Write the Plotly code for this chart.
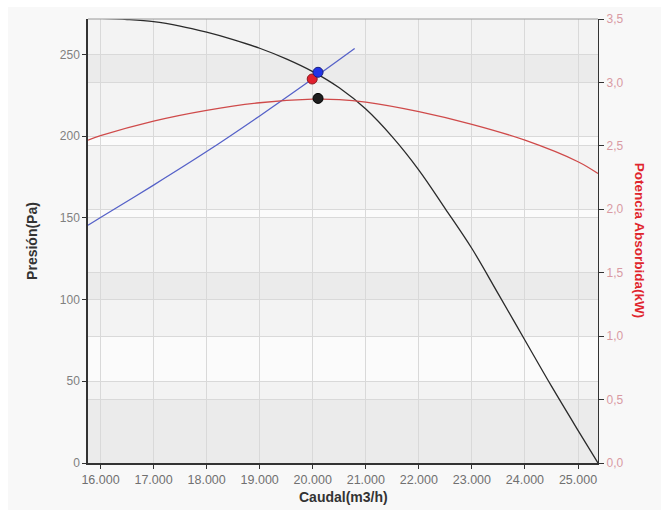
import plotly.graph_objects as go

# ---- data ----
q_fan = [15764, 16000, 16500, 17000, 17500, 18000, 18500, 19000, 19500, 20000, 20500,
         21000, 21500, 22000, 22500, 23000, 23500, 24000, 24500, 25000, 25377]
p_fan = [272.2, 272.0, 271.3, 270.0, 267.3, 263.5, 259.0, 253.7, 247.2, 239.4, 229.5,
         216.5, 199.5, 179.2, 155.5, 131.2, 103.3, 75.1, 47.0, 20.0, 0.0]

q_sys = [15764, 16000, 17000, 18000, 19000, 20000, 20790]
p_sys = [145.4, 150.2, 170.0, 190.5, 212.3, 235.0, 253.5]

q_pow = [15764, 16000, 17000, 18000, 19000, 20000, 20500, 21000, 22000, 23000, 24000, 25000, 25377]
kw_pow = [2.545, 2.58, 2.695, 2.78, 2.84, 2.868, 2.865, 2.845, 2.77, 2.67, 2.545, 2.375, 2.282]

op_sys_q, op_sys_p = [20100], [239.0]
op_fan_q, op_fan_p = [19990], [234.9]
op_pow_q, op_pow_kw = [20100], [2.874]

x_ticks = [16000, 17000, 18000, 19000, 20000, 21000, 22000, 23000, 24000, 25000]
x_tick_text = ["16.000", "17.000", "18.000", "19.000", "20.000", "21.000", "22.000", "23.000", "24.000", "25.000"]
y_ticks = [0, 50, 100, 150, 200, 250]
y2_ticks = [0, 0.5, 1.0, 1.5, 2.0, 2.5, 3.0, 3.5]
y2_tick_text = ["0,0", "0,5", "1,0", "1,5", "2,0", "2,5", "3,0", "3,5"]
left_bands = [(0, 50), (100, 150), (200, 250)]
right_bands = [(0, 0.5), (1.0, 1.5), (2.0, 2.5), (3.0, 3.5)]

X_RANGE = [15764, 25377]
Y_RANGE = [0, 271.6]
Y2_RANGE = [0, 3.5]

FONT = "Liberation Sans, Arial, sans-serif"

fig = go.Figure()
fig.add_trace(go.Scatter(x=q_pow, y=kw_pow, mode="lines", yaxis="y2",
                         line=dict(color="#cf4a4a", width=1.3, shape="spline"), showlegend=False))
fig.add_trace(go.Scatter(x=q_sys, y=p_sys, mode="lines",
                         line=dict(color="#5561c8", width=1.3, shape="spline"), showlegend=False))
fig.add_trace(go.Scatter(x=q_fan, y=p_fan, mode="lines",
                         line=dict(color="#2a2a2a", width=1.3, shape="spline"), showlegend=False))
fig.add_trace(go.Scatter(x=op_fan_q, y=op_fan_p, mode="markers",
                         marker=dict(color="#e0202e", size=10, line=dict(color="#8a1a20", width=1)), showlegend=False))
fig.add_trace(go.Scatter(x=op_sys_q, y=op_sys_p, mode="markers",
                         marker=dict(color="#2233e6", size=10, line=dict(color="#1a2080", width=1)), showlegend=False))
fig.add_trace(go.Scatter(x=op_pow_q, y=op_pow_kw, mode="markers", yaxis="y2",
                         marker=dict(color="#1e1e1e", size=10, line=dict(color="#000000", width=1)), showlegend=False))

shapes = [
    dict(type="rect", xref="paper", yref="paper", x0=-0.157, x1=1.13, y0=-0.106, y1=1.027,
         fillcolor="#f8f8f8", line=dict(width=0), layer="below"),
    dict(type="rect", xref="x domain", yref="y domain", x0=0, x1=1, y0=0, y1=1,
         fillcolor="#fbfbfb", line=dict(width=0), layer="below"),
]
for a, b in left_bands:
    shapes.append(dict(type="rect", xref="x domain", yref="y", x0=0, x1=1, y0=a, y1=b,
                       fillcolor="rgba(0,0,0,0.03)", line=dict(width=0), layer="below"))
for a, b in right_bands:
    shapes.append(dict(type="rect", xref="x domain", yref="y2", x0=0, x1=1, y0=a, y1=b,
                       fillcolor="rgba(0,0,0,0.03)", line=dict(width=0), layer="below"))
shapes.append(dict(type="line", xref="x domain", yref="y domain", x0=0, x1=1, y0=1, y1=1,
                   line=dict(color="#9a9a9a", width=1)))

annotations = [
    dict(text="<b>Presión(Pa)</b>", xref="paper", yref="paper", x=-0.11, y=0.5,
         textangle=-90, showarrow=False, xanchor="center", yanchor="middle",
         font=dict(family=FONT, size=14, color="#333333")),
    dict(text="<b>Potencia Absorbida(kW)</b>", xref="paper", yref="paper", x=1.083, y=0.5,
         textangle=90, showarrow=False, xanchor="center", yanchor="middle",
         font=dict(family=FONT, size=13.5, color="#e0262e")),
    dict(text="<b>Caudal(m3/h)</b>", xref="paper", yref="paper", x=0.5, y=-0.0765,
         showarrow=False, xanchor="center", yanchor="middle",
         font=dict(family=FONT, size=14, color="#333333")),
]

fig.update_layout(
    width=661, height=513,
    margin=dict(l=88, r=63, t=19, b=50, pad=0),
    paper_bgcolor="white",
    plot_bgcolor="rgba(0,0,0,0)",
    font=dict(family=FONT, size=12, color="#777777"),
    shapes=shapes,
    annotations=annotations,
    xaxis=dict(range=X_RANGE, tickvals=x_ticks, ticktext=x_tick_text,
               showgrid=True, gridcolor="#d9d9d9", gridwidth=1, zeroline=False,
               showline=True, linecolor="#333333", linewidth=1.5,
               ticks="outside", ticklen=4, tickcolor="#333333",
               tickfont=dict(family=FONT, size=12.5, color="#707070")),
    yaxis=dict(range=Y_RANGE, tickvals=y_ticks,
               showgrid=True, gridcolor="#d9d9d9", gridwidth=1, zeroline=False,
               showline=True, linecolor="#333333", linewidth=1.5,
               ticks="outside", ticklen=4, tickcolor="#333333",
               tickfont=dict(family=FONT, size=12, color="#808080")),
    yaxis2=dict(range=Y2_RANGE, tickvals=y2_ticks, ticktext=y2_tick_text,
                overlaying="y", side="right", anchor="x",
                showgrid=True, gridcolor="#d9d9d9", gridwidth=1, zeroline=False,
                showline=True, linecolor="#333333", linewidth=1.2,
                ticks="outside", ticklen=5, tickcolor="#333333",
                tickfont=dict(family=FONT, size=12, color="#d99aa3")),
)

fig.write_html("out.html")
